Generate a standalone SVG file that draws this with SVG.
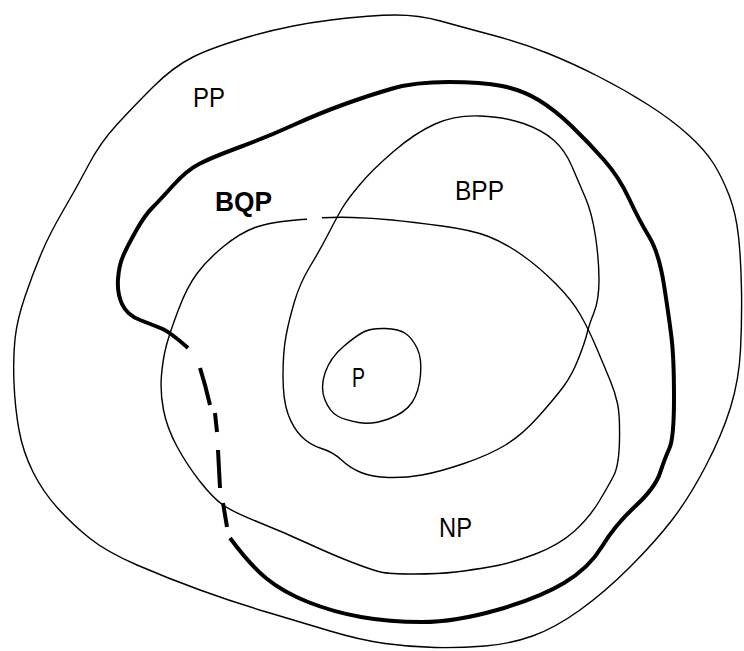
<svg xmlns="http://www.w3.org/2000/svg" width="744" height="651" viewBox="0 0 744 651">
<style>
.thin{fill:none;stroke:#000;stroke-width:1.4;stroke-linejoin:round}
.thick{fill:none;stroke:#000;stroke-width:4;stroke-linejoin:round}
.dash{fill:none;stroke:#000;stroke-width:4;stroke-linecap:butt}
.lbl{font-family:"Liberation Sans",Arial,sans-serif;font-size:28px;fill:#000}
.b{font-weight:bold}
</style>
<rect width="744" height="651" fill="#fff"/>
<g id="PP">
<path class="thin" d="M331,20 Q372,15 395.5,15 Q419,15 440.5,21 Q462,27 492,35 Q522,43 547,53 Q572,63 598.5,76.5 Q625,90 648.5,105 Q672,120 688.5,135 Q705,150 713.5,163.5 Q722,177 729,195 Q736,213 738.5,236.5 Q741,260 741.5,290 Q742,320 740.5,350 Q739,380 730.5,407.5 Q722,435 705.5,466.5 Q689,498 672,520 Q655,542 630,567 Q605,592 580,610 Q555,628 532.5,636 Q510,644 485,646 Q460,648 435,647.5 Q410,647 385,643.5 Q360,640 330,631 Q300,622 266.5,612 Q233,602 200,590 Q167,578 137,565 Q107,552 90,538.5 Q73,525 58,508.5 Q43,492 33,472 Q23,452 19,430 Q15,408 14,383 Q13,358 15,339 Q17,320 25,296.5 Q33,273 41.5,253 Q50,233 63.5,210 Q77,187 88.5,165 Q100,143 116.5,125 Q133,107 153,87 Q173,67 193,57 Q213,47 251.5,36 Q290,25 331,20 Z"/>
<text class="lbl" x="193" y="107" textLength="32" lengthAdjust="spacingAndGlyphs">PP</text>
</g>
<g id="BQP">
<path class="thick" d="M188,348 Q170,332 161.5,328.5 Q153,325 140,320 Q127,315 122,304 Q117,293 118,279 Q119,265 123.5,255 Q128,245 136.5,230 Q145,215 152.5,207.5 Q160,200 173.5,185 Q187,170 200,163.5 Q213,157 240,147 Q267,137 293.5,125 Q320,113 345,104 Q370,95 392.5,88.5 Q415,82 448.5,82 Q482,82 502,86 Q522,90 538.5,100 Q555,110 572,126.5 Q589,143 604,160 Q619,177 629,198.5 Q639,220 649,236.5 Q659,253 664,285 Q669,317 671.5,337.5 Q674,358 674,398 Q674,438 669.5,448 Q665,458 660,473 Q655,488 635,506.5 Q615,525 602,546.5 Q589,568 564,583 Q539,598 497,610 Q455,622 422,622 Q389,622 361,617 Q333,612 308,602 Q283,592 266.5,578.5 Q250,565 230,538"/>
<path class="dash" d="M200,368 L205,385 L210,405 M215,413 L217,432 M218,450 L220,488 M223,503 L227,527"/>
<text class="lbl b" x="215" y="211" textLength="57" lengthAdjust="spacingAndGlyphs">BQP</text>
</g>
<g id="BPP">
<path class="thin" d="M435,124 Q455,115 480,116 Q505,117 523.5,123.5 Q542,130 553.5,140 Q565,150 572,166.5 Q579,183 585.5,198 Q592,213 595.5,236.5 Q599,260 599,280 Q599,300 594,312.5 Q589,325 587,333.5 Q585,342 578.5,358.5 Q572,375 563.5,386.5 Q555,398 538.5,416.5 Q522,435 505.5,445 Q489,455 464,463.5 Q439,472 422,475 Q405,478 388.5,477.5 Q372,477 361,472.5 Q350,468 341.5,460 Q333,452 321.5,448.5 Q310,445 301.5,436.5 Q293,428 288,414 Q283,400 283,376 Q283,352 286,336 Q289,320 294.5,301.5 Q300,283 310,266.5 Q320,250 328.5,233.5 Q337,217 342,208.5 Q347,200 359.5,185 Q372,170 393.5,151.5 Q415,133 435,124 Z"/>
<text class="lbl" x="455" y="200" textLength="49" lengthAdjust="spacingAndGlyphs">BPP</text>
</g>
<g id="NP">
<path class="thin" d="M322,217.8 Q337,217 352.5,217.5 Q372,218 392,220 Q412,222 442,226 Q472,230 488.5,236.5 Q505,243 522,255 Q539,267 555.5,283.5 Q572,300 580.5,315 Q589,330 597,349 Q605,368 610,380 Q615,392 617.5,403.5 Q620,415 619.5,440 Q619,465 614,475 Q609,485 599,501.5 Q589,518 574,531.5 Q559,545 535.5,554 Q512,563 492,566.5 Q472,570 455.5,572 Q439,574 414,574 Q389,574 380.5,572 Q372,570 352.5,562.5 Q333,555 308,543.5 Q283,532 258,522 Q233,512 223,505 Q213,498 200,481.5 Q187,465 177,446.5 Q167,428 163.5,410 Q160,392 161.5,375 Q163,358 166.5,345 Q170,332 178.5,309.5 Q187,287 197,273.5 Q207,260 223.5,246.5 Q240,233 255,227.5 Q270,222 301.5,219.5 L307,219.2"/>
<text class="lbl" x="439" y="537" textLength="33" lengthAdjust="spacingAndGlyphs">NP</text>
</g>
<g id="P">
<path class="thin" d="M364.5,331.5 Q372,328 385.5,328.5 Q399,329 405.5,333.5 Q412,338 417,348 Q422,358 420.5,375 Q419,392 412,402.5 Q405,413 388.5,419 Q372,425 358.5,422.5 Q345,420 337.5,416 Q330,412 325,400 Q320,388 325,373 Q330,358 343.5,346.5 Q357,335 364.5,331.5 Z"/>
<text class="lbl" x="352" y="387" textLength="13" lengthAdjust="spacingAndGlyphs">P</text>
</g>
<g id="connectors"></g>
</svg>
